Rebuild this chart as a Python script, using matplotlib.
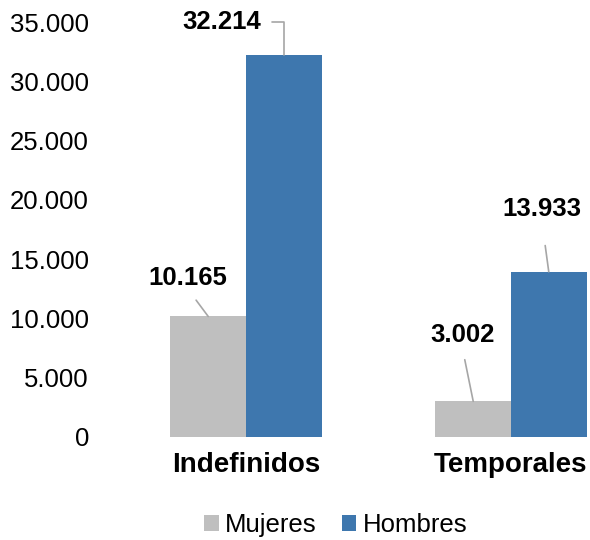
import numpy as np
import matplotlib.pyplot as plt

# ---------------------------
# DATOS
# ---------------------------
categorias = ["Indefinidos", "Temporales"]
series = ["Mujeres", "Hombres"]
mujeres = [10165, 3002]
hombres = [32214, 13933]
etiquetas_y = ["0", "5.000", "10.000", "15.000", "20.000", "25.000", "30.000", "35.000"]

COLOR_MUJ = "#bfbfbf"
COLOR_HOM = "#3e77ae"
COLOR_LINEA = "#a6a6a6"

plt.rcParams["font.family"] = ["Liberation Sans", "DejaVu Sans"]

fig = plt.figure(figsize=(5.9, 5.4), dpi=100)
ax = fig.add_axes([100 / 590, 103 / 540, 490 / 590, 415 / 540])

x = np.arange(len(categorias))
ancho = 0.285

b_muj = ax.bar(x - ancho / 2, mujeres, ancho, color=COLOR_MUJ, label=series[0])
b_hom = ax.bar(x + ancho / 2, hombres, ancho, color=COLOR_HOM, label=series[1])

ax.set_xlim(-146 / 265, 1 + 79 / 265)
ax.set_ylim(0, 35000)
ax.set_yticks(np.arange(0, 35001, 5000))
ax.set_yticklabels(etiquetas_y, fontsize=18.5)
ax.set_xticks(x)
ax.set_xticklabels(categorias, fontsize=20, fontweight="bold")
ax.tick_params(axis="y", length=0, pad=8)
ax.tick_params(axis="x", length=0, pad=11)
for s in ax.spines.values():
    s.set_visible(False)

# etiquetas de datos con línea guía (offsets en puntos)
def etiqueta(xpos, val, dx, dy, shrink, elbow=False):
    txt = f"{val:,}".replace(",", ".")
    props = dict(arrowstyle="-", color=COLOR_LINEA, lw=1.2, shrinkA=shrink, shrinkB=0)
    if elbow:
        props["connectionstyle"] = "angle,angleA=0,angleB=90,rad=0"
        props["relpos"] = (1, 0.5)
    else:
        props["relpos"] = (0.5, 0)
    ax.annotate(txt, xy=(xpos, val), xytext=(dx, dy), textcoords="offset points",
                ha="center", va="center", fontsize=18.5, fontweight="bold",
                arrowprops=props)

etiqueta(x[0] + ancho / 2, hombres[0], -44.6, 23.8, 6, elbow=True)
etiqueta(x[0] - ancho / 2, mujeres[0], -14.4, 28.0, 7)
etiqueta(x[1] - ancho / 2, mujeres[1], -7.9, 47.5, 7)
etiqueta(x[1] + ancho / 2, hombres[1], -5.0, 45.4, 16)

fig.legend(loc="center", bbox_to_anchor=(336 / 590, 15 / 540), ncol=2, frameon=False,
           fontsize=18.5, handlelength=0.55, handleheight=0.55, handletextpad=0.25,
           columnspacing=1.0)

fig.savefig("out.png", dpi=100)
